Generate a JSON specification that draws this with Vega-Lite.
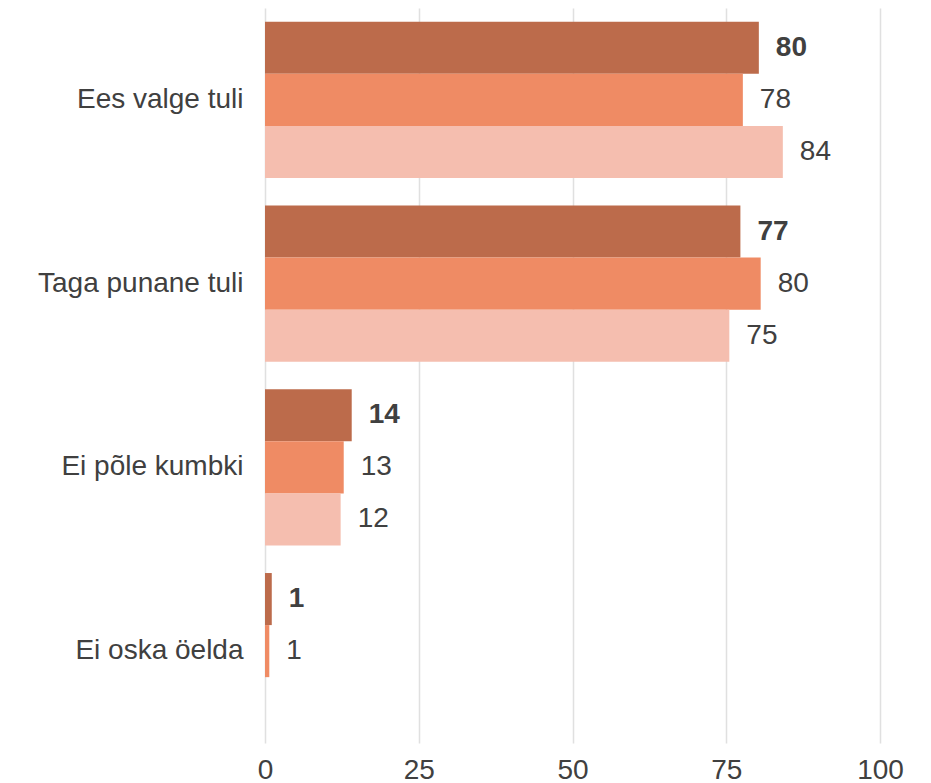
{
  "$schema": "https://vega.github.io/schema/vega-lite/v6.json",
  "width": 615,
  "height": 735,
  "autosize": {"type": "none"},
  "padding": {"left": 265, "top": 8, "right": 51, "bottom": 40},
  "background": "white",
  "config": {"view": {"stroke": null}, "font": "Liberation Sans"},
  "data": {
    "values": [
      {"cat": "Ees valge tuli", "series": "r1", "value": 80.3, "label": "80"},
      {"cat": "Ees valge tuli", "series": "r2", "value": 77.7, "label": "78"},
      {"cat": "Ees valge tuli", "series": "r3", "value": 84.2, "label": "84"},
      {"cat": "Taga punane tuli", "series": "r1", "value": 77.3, "label": "77"},
      {"cat": "Taga punane tuli", "series": "r2", "value": 80.6, "label": "80"},
      {"cat": "Taga punane tuli", "series": "r3", "value": 75.5, "label": "75"},
      {"cat": "Ei põle kumbki", "series": "r1", "value": 14.1, "label": "14"},
      {"cat": "Ei põle kumbki", "series": "r2", "value": 12.8, "label": "13"},
      {"cat": "Ei põle kumbki", "series": "r3", "value": 12.3, "label": "12"},
      {"cat": "Ei oska öelda", "series": "r1", "value": 1.1, "label": "1"},
      {"cat": "Ei oska öelda", "series": "r2", "value": 0.7, "label": "1"}
    ]
  },
  "encoding": {
    "y": {
      "field": "cat",
      "type": "nominal",
      "sort": ["Ees valge tuli", "Taga punane tuli", "Ei põle kumbki", "Ei oska öelda"],
      "scale": {"paddingInner": 0.15, "paddingOuter": 0.075},
      "axis": {
        "title": null,
        "domain": false,
        "ticks": false,
        "grid": false,
        "labelPadding": 22,
        "labelFontSize": 28,
        "labelColor": "#404040",
        "labelLimit": 300
      }
    },
    "yOffset": {
      "field": "series",
      "type": "nominal",
      "sort": ["r1", "r2", "r3"],
      "scale": {"paddingInner": 0, "paddingOuter": 0}
    },
    "x": {
      "field": "value",
      "type": "quantitative",
      "scale": {"domain": [0, 100], "nice": false},
      "axis": {
        "title": null,
        "values": [0, 25, 50, 75, 100],
        "domain": false,
        "ticks": false,
        "grid": true,
        "gridColor": "#e0e0e0",
        "gridWidth": 1.5,
        "labelPadding": 13,
        "labelFontSize": 28,
        "labelColor": "#404040",
        "labelFlush": false
      }
    }
  },
  "layer": [
    {
      "mark": {"type": "bar"},
      "encoding": {
        "color": {
          "field": "series",
          "type": "nominal",
          "scale": {"domain": ["r1", "r2", "r3"], "range": ["#bc6b4b", "#ef8b64", "#f5beaf"]},
          "legend": null
        }
      }
    },
    {
      "transform": [{"filter": "datum.series === 'r1'"}],
      "mark": {"type": "text", "align": "left", "baseline": "middle", "dx": 17, "fontSize": 28, "fontWeight": "bold", "color": "#404040"},
      "encoding": {"text": {"field": "label"}}
    },
    {
      "transform": [{"filter": "datum.series !== 'r1'"}],
      "mark": {"type": "text", "align": "left", "baseline": "middle", "dx": 17, "fontSize": 28, "color": "#404040"},
      "encoding": {"text": {"field": "label"}}
    }
  ]
}
